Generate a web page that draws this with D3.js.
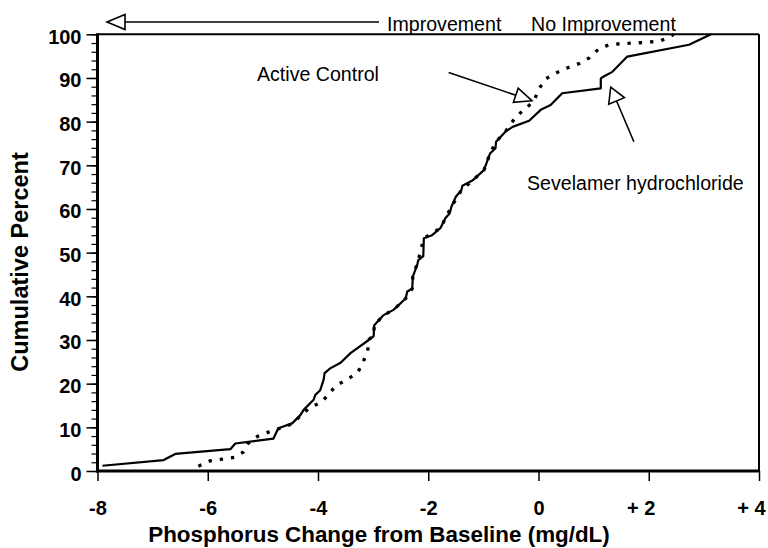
<!DOCTYPE html>
<html>
<head>
<meta charset="utf-8">
<script src="https://cdn.jsdelivr.net/npm/d3@7"></script>
<style>
  body { margin: 0; background: #fff; }
  text { font-family: Arial, "Liberation Sans", Helvetica, sans-serif; }
</style>
</head>
<body>
<div id="chart"></div>
<script>
// cumulative distribution curves: [change mg/dL, cumulative %]
const sevelamer = [
  [-7.91, 1.2], [-6.80, 2.5], [-6.59, 3.9], [-5.59, 5.0], [-5.50, 6.3], [-4.81, 7.4],
  [-4.72, 9.8], [-4.47, 10.9], [-4.32, 12.8], [-4.26, 14.0], [-4.08, 16.3], [-4.05, 17.4],
  [-3.96, 18.5], [-3.90, 20.8], [-3.88, 22.4], [-3.78, 23.5], [-3.59, 24.8], [-3.41, 27.0],
  [-3.08, 30.0], [-2.99, 30.9], [-2.98, 33.4], [-2.81, 35.7], [-2.63, 36.9], [-2.41, 39.5],
  [-2.38, 41.1], [-2.29, 41.8], [-2.28, 44.5], [-2.20, 47.2], [-2.18, 48.3], [-2.09, 49.2],
  [-2.08, 53.3], [-1.93, 54.0], [-1.78, 55.6], [-1.69, 57.9], [-1.61, 59.0], [-1.58, 60.5],
  [-1.50, 62.8], [-1.40, 64.3], [-1.38, 65.3], [-1.20, 66.5], [-0.99, 68.9], [-0.88, 72.7],
  [-0.78, 73.9], [-0.77, 75.4], [-0.60, 77.7], [-0.47, 78.8], [-0.17, 80.2], [0.04, 82.7],
  [0.22, 83.8], [0.43, 86.5], [1.13, 87.6], [1.13, 89.9], [1.19, 90.4], [1.34, 91.4],
  [1.61, 94.9], [2.73, 97.6], [3.13, 100]
];

const activeControl = [
  [-6.17, 1.1], [-5.96, 2.3], [-5.74, 2.7], [-5.52, 3.1], [-5.36, 4.3], [-5.27, 6.3],
  [-5.10, 7.9], [-4.90, 8.9], [-4.68, 9.8], [-4.47, 10.8], [-4.31, 12.7], [-4.14, 14.6],
  [-3.94, 15.7], [-3.79, 17.8], [-3.68, 19.5], [-3.47, 21.0], [-3.28, 22.5], [-3.18, 25.0],
  [-3.10, 27.5], [-3.07, 30.2], [-2.99, 30.9], [-2.98, 33.4], [-2.81, 35.7], [-2.63, 36.9],
  [-2.41, 39.5], [-2.29, 41.8], [-2.28, 44.5], [-2.18, 48.3], [-2.08, 53.3], [-1.78, 55.6],
  [-1.58, 60.5], [-1.40, 64.3], [-1.20, 66.5], [-0.99, 68.9], [-0.88, 72.7], [-0.77, 75.4],
  [-0.60, 77.7], [-0.40, 81.3], [-0.21, 83.2], [-0.07, 85.1], [0.01, 87.5], [0.13, 89.8],
  [0.33, 91.2], [0.52, 92.3], [0.74, 93.3], [0.92, 94.6], [1.09, 96.6], [1.28, 97.6],
  [1.52, 97.9], [1.74, 98.0], [1.98, 98.2], [2.19, 98.4], [2.40, 99.5], [2.45, 100]
];

const xTicks = [-8, -6, -4, -2, 0, 2, 4];
const xTickLabels = ['-8', '-6', '-4', '-2', '0', '+ 2', '+ 4'];
const yTicks = [0, 10, 20, 30, 40, 50, 60, 70, 80, 90, 100];
const yMinorTicks = d3.range(0, 101, 2);

function drawChart() {
  const w = 768;
  const h = 548;
  const left = 97.5, right = 759, top = 34.3, bottom = 471;

  const svg = d3.select('#chart').append('svg').attr('width', w).attr('height', h);

  const x = d3.scaleLinear().domain([-8, 4]).range([left, right]);
  const y = d3.scaleLinear().domain([0, 100]).range([bottom, top]);

  // frame: thin top/right, heavy left/bottom axes
  svg.append('line').attr('x1', left).attr('x2', right).attr('y1', top).attr('y2', top)
    .attr('stroke', '#000').attr('stroke-width', 2);
  svg.append('line').attr('x1', right).attr('x2', right).attr('y1', top).attr('y2', bottom)
    .attr('stroke', '#000').attr('stroke-width', 2);

  // y axis with minor ticks every 2
  const yAxis = svg.append('g').attr('transform', `translate(${left},0)`)
    .call(d3.axisLeft(y).tickValues(yMinorTicks).tickSize(6).tickFormat(''));
  yAxis.select('.domain').remove();
  yAxis.selectAll('.tick line').attr('stroke-width', 1.2);

  const yMajor = svg.append('g').attr('transform', `translate(${left},0)`)
    .call(d3.axisLeft(y).tickValues(yTicks).tickSize(11).tickPadding(5));
  yMajor.select('.domain').remove();
  yMajor.selectAll('.tick line').attr('stroke-width', 1.5);
  yMajor.selectAll('.tick text')
    .attr('font-size', 20).attr('font-weight', 'bold').attr('fill', '#000')
    .attr('dy', '0.45em');

  const xAxis = svg.append('g').attr('transform', `translate(0,${bottom})`)
    .call(d3.axisBottom(x).tickValues(xTicks).tickSize(10).tickPadding(20)
      .tickFormat((d, i) => xTickLabels[i]));
  xAxis.select('.domain').remove();
  xAxis.selectAll('.tick line').attr('stroke-width', 1.5);
  xAxis.selectAll('.tick text')
    .attr('font-size', 20).attr('font-weight', 'bold').attr('fill', '#000')
    .attr('text-anchor', (d) => (d > 0 ? 'end' : 'middle'))
    .attr('dx', (d) => (d > 0 ? 6 : 0));

  // heavy axis lines on top of the ticks
  svg.append('line').attr('x1', left).attr('x2', left).attr('y1', top - 1).attr('y2', bottom + 1.5)
    .attr('stroke', '#000').attr('stroke-width', 3);
  svg.append('line').attr('x1', left - 1.5).attr('x2', right + 1).attr('y1', bottom).attr('y2', bottom)
    .attr('stroke', '#000').attr('stroke-width', 3);

  const line = d3.line().x((d) => x(d[0])).y((d) => y(d[1]));

  svg.append('path').datum(activeControl).attr('d', line)
    .attr('fill', 'none').attr('stroke', '#000').attr('stroke-width', 3.3)
    .attr('stroke-dasharray', '3.3,8');

  svg.append('path').datum(sevelamer).attr('d', line)
    .attr('fill', 'none').attr('stroke', '#000').attr('stroke-width', 2.2)
    .attr('stroke-linejoin', 'round');

  // arrows with open triangle heads
  function arrow(x1, y1, x2, y2, len, half) {
    const dx = x2 - x1, dy = y2 - y1;
    const d = Math.sqrt(dx * dx + dy * dy);
    const ux = dx / d, uy = dy / d;
    const bx = x2 - ux * len, by = y2 - uy * len;
    svg.append('line').attr('x1', x1).attr('y1', y1).attr('x2', bx).attr('y2', by)
      .attr('stroke', '#000').attr('stroke-width', 1.6);
    const pts = [[x2, y2], [bx - uy * half, by + ux * half], [bx + uy * half, by - ux * half]];
    svg.append('polygon').attr('points', pts.map((p) => p.join(',')).join(' '))
      .attr('fill', '#fff').attr('stroke', '#000').attr('stroke-width', 1.6);
  }

  arrow(379, 22, 107, 22, 18, 7.5);
  arrow(x(-1.63), y(91.25), x(-0.12), y(84.8), 17, 7.5);
  arrow(x(1.73), y(75.4), x(1.31), y(87.9), 15, 8.5);

  // annotation text
  const note = (tx, ty, s) => svg.append('text').attr('x', tx).attr('y', ty)
    .attr('font-size', 19.6).attr('fill', '#000').text(s);
  note(387, 30.5, 'Improvement');
  note(531, 30.5, 'No Improvement');
  note(257, 81, 'Active Control');
  note(527, 190, 'Sevelamer hydrochloride');

  // axis titles
  svg.append('text').attr('x', 379).attr('y', 541.5).attr('text-anchor', 'middle')
    .attr('font-size', 22.4).attr('font-weight', 'bold')
    .text('Phosphorus Change from Baseline (mg/dL)');

  svg.append('text').attr('transform', 'translate(28,262) rotate(-90)')
    .attr('text-anchor', 'middle').attr('font-size', 23.5).attr('font-weight', 'bold')
    .text('Cumulative Percent');
}

window.onload = function () {
  drawChart();
};
</script>
</body>
</html>
